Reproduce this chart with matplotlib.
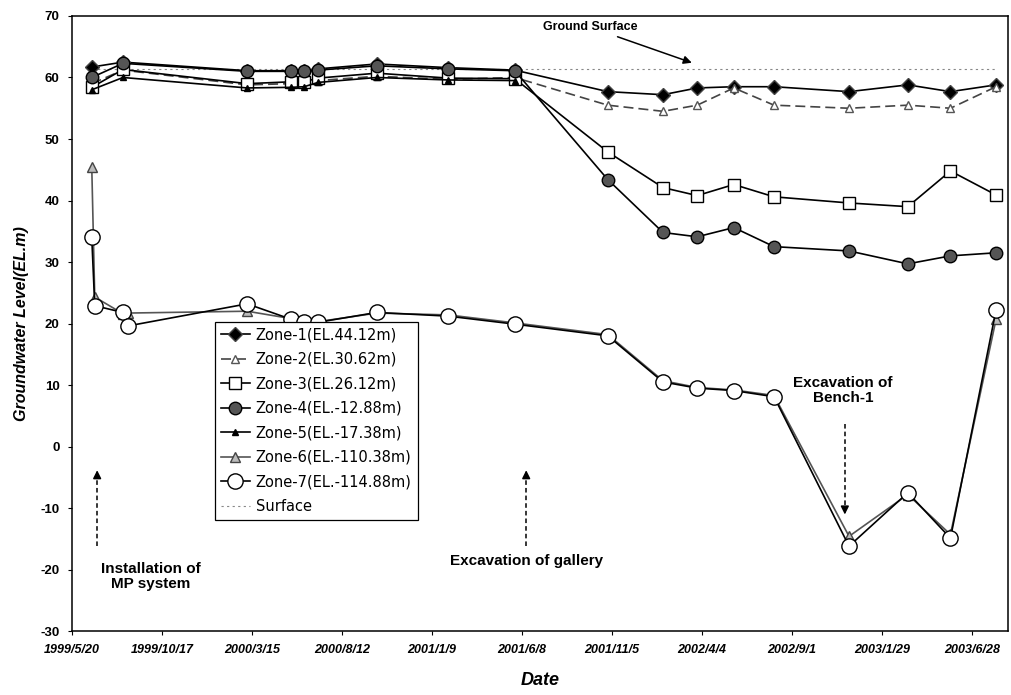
import numpy as np
import pandas as pd
import matplotlib
matplotlib.use('Agg')
import matplotlib.pyplot as plt

# measurement dates (shared by all zones)
dates = pd.to_datetime([
    '1999-06-22', '1999-06-27', '1999-08-13', '1999-08-21', '2000-03-07',
    '2000-05-19', '2000-06-10', '2000-07-03', '2000-10-09', '2001-02-05',
    '2001-05-27', '2001-10-29', '2002-01-29', '2002-03-27', '2002-05-27',
    '2002-08-02', '2002-12-05', '2003-03-13', '2003-05-23', '2003-08-07'])

nan = np.nan
zone1 = [61.7, nan, 62.5, nan, 61.1, 61.1, 61.1, 61.4, 62.2, 61.6,
         61.2, 57.7, 57.2, 58.3, 58.5, 58.5, 57.7, 58.8, 57.7, 58.8]
zone2 = [59.0, nan, 61.2, nan, 58.8, 59.0, 59.2, 59.5, 60.2, 59.7,
         60.0, 55.5, 54.5, 55.5, 58.3, 55.5, 55.0, 55.5, 55.0, 58.5]
zone3 = [58.4, nan, 61.3, nan, 59.0, 59.3, 59.3, 59.9, 60.7, 59.9,
         59.8, 47.9, 42.1, 40.8, 42.6, 40.6, 39.6, 39.0, 44.8, 40.9]
zone4 = [60.0, nan, 62.3, nan, 61.0, 61.0, 61.0, 61.2, 61.9, 61.4,
         61.1, 43.4, 34.8, 34.1, 35.6, 32.5, 31.8, 29.7, 31.0, 31.5]
zone5 = [58.0, nan, 60.0, nan, 58.3, 58.4, 58.5, 59.2, 60.0, 59.6,
         59.5, nan, nan, nan, nan, nan, nan, nan, nan, nan]
zone6 = [45.5, 24.3, 21.6, 21.7, 22.0, 20.8, 20.4, 20.3, 21.7, 21.4,
         20.1, 18.2, 10.7, 9.6, 9.2, 8.3, -14.6, -7.8, -14.3, 20.7]
zone7 = [34.0, 22.9, 21.8, 19.6, 23.2, 20.7, 20.3, 20.2, 21.8, 21.2,
         19.9, 18.0, 10.5, 9.5, 9.1, 8.1, -16.2, -7.5, -14.9, 22.2]
surface_dates = pd.to_datetime(['1999-06-22', '2003-08-07'])
surface_level = [61.3, 61.3]

labels = ['Zone-1(EL.44.12m)', 'Zone-2(EL.30.62m)', 'Zone-3(EL.26.12m)',
          'Zone-4(EL.-12.88m)', 'Zone-5(EL.-17.38m)', 'Zone-6(EL.-110.38m)',
          'Zone-7(EL.-114.88m)', 'Surface']

tick_labels = ['1999/5/20', '1999/10/17', '2000/3/15', '2000/8/12', '2001/1/9',
               '2001/6/8', '2001/11/5', '2002/4/4', '2002/9/1', '2003/1/29',
               '2003/6/28']

plt.rcParams['font.family'] = ['Liberation Sans', 'DejaVu Sans']
plt.rcParams['axes.unicode_minus'] = False

fig = plt.figure(figsize=(10.12, 6.95), dpi=100)
ax = fig.add_axes([0.0711, 0.092, 0.925, 0.885])

styles = [
    dict(marker='D', ms=7, mfc='black', mec='#444444', ls='-', color='black'),
    dict(marker='^', ms=6, mfc='white', mec='#555555', ls=(0, (6, 3)), color='#444444'),
    dict(marker='s', ms=8, mfc='white', mec='black', ls='-', color='black'),
    dict(marker='o', ms=9, mfc='#555555', mec='black', ls='-', color='black'),
    dict(marker='^', ms=4, mfc='black', mec='black', ls='-', color='black'),
    dict(marker='^', ms=7, mfc='#bbbbbb', mec='#444444', ls='-', color='#555555'),
    dict(marker='o', ms=11, mfc='white', mec='black', ls='-', color='black'),
]
zones = [zone1, zone2, zone3, zone4, zone5, zone6, zone7]
for vals, st, lab in zip(zones, styles, labels):
    v = np.array(vals, dtype=float)
    ok = ~np.isnan(v)
    ax.plot(dates[ok], v[ok], lw=1.2, mew=1.0, label=lab, **st)

ax.plot(surface_dates, surface_level, color='#888888', lw=0.8, ls=(0, (2, 3)),
        label=labels[7], zorder=1)

start = pd.Timestamp('1999-05-20')
tick_pos = pd.to_datetime(tick_labels, format='%Y/%m/%d')
ax.set_xlim(start, start + pd.Timedelta(days=1560))
ax.set_ylim(-30, 70)
ax.set_yticks(range(-30, 71, 10))
ax.set_xticks(tick_pos)
ax.set_xticklabels(tick_labels, fontsize=9, fontweight='bold', fontstyle='italic')
for t in ax.get_yticklabels():
    t.set_fontsize(9.5)
    t.set_fontweight('bold')
ax.tick_params(direction='out', length=3, width=0.8, pad=6)
for s in ax.spines.values():
    s.set_linewidth(1.1)

ax.set_xlabel('Date', fontsize=13, fontweight='bold', fontstyle='italic', labelpad=12)
ax.set_ylabel('Groundwater Level(EL.m)', fontsize=11.5, fontweight='bold',
              fontstyle='italic', labelpad=8)

def d(n):
    return start + pd.Timedelta(days=n)

# annotations
def dashed_arrow(xd, y0, y1):
    ax.plot([d(xd), d(xd)], [y0, y1 - np.sign(y1 - y0) * 1.5], color='black',
            lw=1.1, ls=(0, (3, 2)))
    ax.annotate('', xy=(d(xd), y1), xytext=(d(xd), y1 - np.sign(y1 - y0) * 2.0),
                arrowprops=dict(arrowstyle='-|>', color='black', lw=1.1,
                                mutation_scale=12))

dashed_arrow(42, -16.2, -3.4)
ax.text(d(132), -21.2, 'Installation of\nMP system', ha='center', va='center',
        fontsize=11, fontweight='bold', linespacing=1.1)
dashed_arrow(757, -16.2, -3.4)
ax.text(d(757), -18.6, 'Excavation of gallery', ha='center', va='center',
        fontsize=11, fontweight='bold')
dashed_arrow(1288, 3.6, -11.5)
ax.text(d(1285), 9.1, 'Excavation of\nBench-1', ha='center', va='center',
        fontsize=11, fontweight='bold', linespacing=1.1)
ax.annotate('Ground Surface', xy=(d(1033), 62.4), xytext=(d(863), 68.2),
            ha='center', va='center', fontsize=9, fontweight='bold',
            arrowprops=dict(arrowstyle='-|>', color='black', lw=1.1,
                            mutation_scale=12, shrinkA=2, shrinkB=0))

leg = ax.legend(loc='upper left', bbox_to_anchor=(0.145, 0.515),
                prop={'family': 'DejaVu Sans', 'size': 10.5}, frameon=True,
                fancybox=False, edgecolor='black', framealpha=1,
                handlelength=2.0, labelspacing=0.65, borderpad=0.4,
                handletextpad=0.4)
leg.get_frame().set_linewidth(0.9)

fig.savefig('out.png', dpi=100)
